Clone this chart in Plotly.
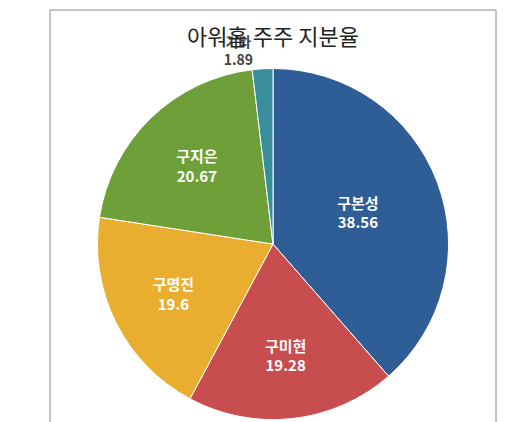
import plotly.graph_objects as go

labels = ["구본성", "구미현", "구명진", "구지은", "기타"]
values = [38.56, 19.28, 19.6, 20.67, 1.89]
colors = ["#2F5D95", "#C84D4F", "#E9AE2F", "#6E9F38", "#3A8E9C"]

fig = go.Figure(go.Pie(
    labels=labels, values=values, sort=False, direction="clockwise", rotation=0,
    domain=dict(x=[0.02, 0.98], y=[0.02, 0.86]),
    marker=dict(colors=colors, line=dict(color="white", width=1)),
    texttemplate="<b>%{label}<br>%{value}</b>",
    textposition=["inside", "inside", "inside", "inside", "outside"],
    insidetextorientation="horizontal",
    insidetextfont=dict(color="white", size=15, family="Noto Sans CJK KR"),
    outsidetextfont=dict(color="#444", size=14, family="Noto Sans CJK KR"),
    showlegend=False,
))
fig.update_layout(
    width=530, height=422,
    margin=dict(l=2, r=2, t=2, b=2),
    paper_bgcolor="white",
    title=dict(text="아워홈 주주 지분율", x=0.5, y=0.95, xanchor="center",
               font=dict(size=22, family="Noto Sans CJK KR", color="#222")),
    shapes=[dict(type="rect", xref="paper", yref="paper", x0=0, y0=0, x1=1, y1=1,
                 line=dict(color="#888", width=1))],
)
fig.write_html("out.html")
